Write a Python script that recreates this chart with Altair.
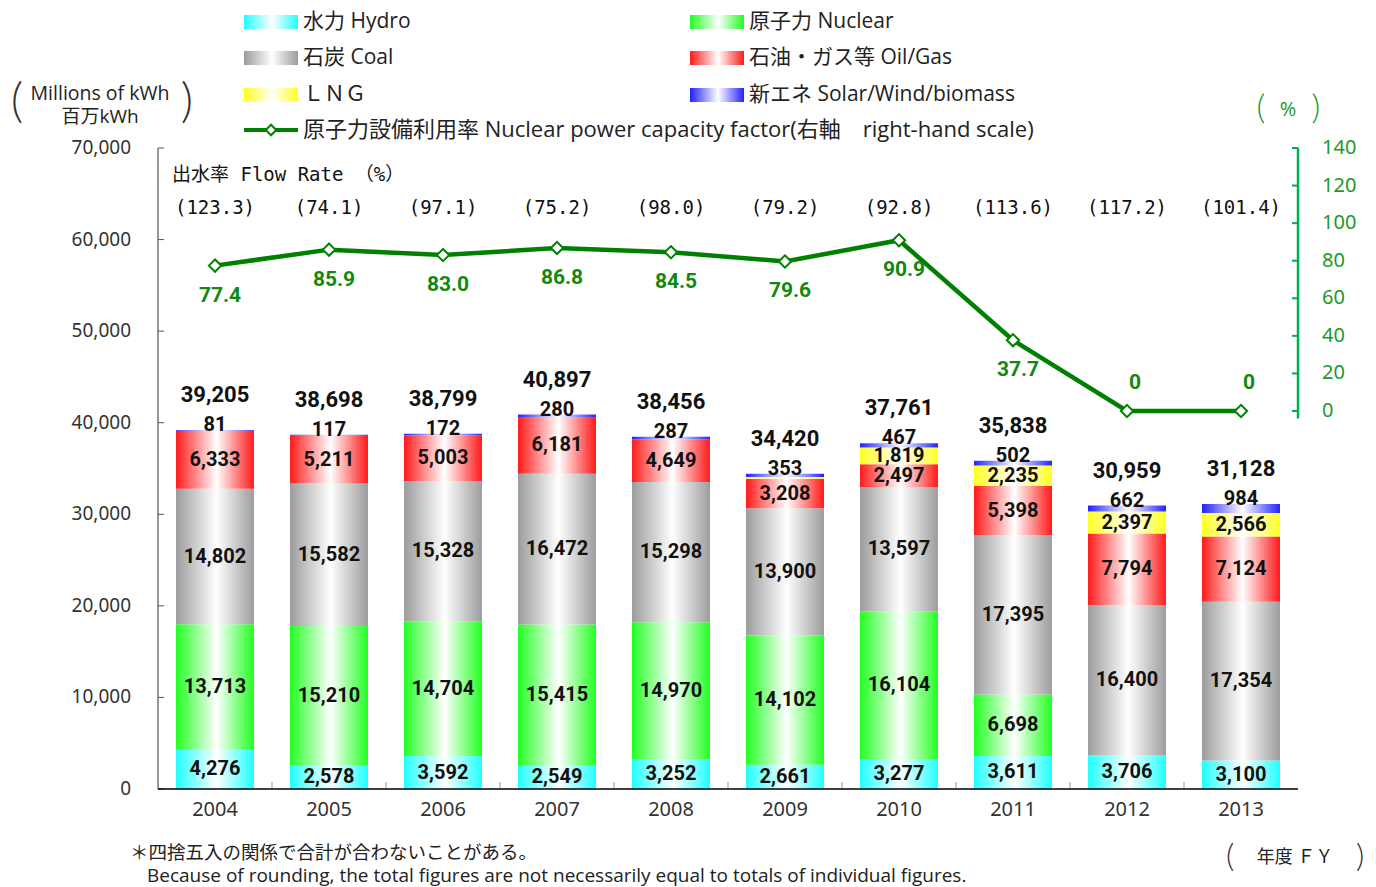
import altair as alt
import pandas as pd

# ---------------- data ----------------
years = ["2004", "2005", "2006", "2007", "2008", "2009", "2010", "2011", "2012", "2013"]
hydro = [4276, 2578, 3592, 2549, 3252, 2661, 3277, 3611, 3706, 3100]
nuclear = [13713, 15210, 14704, 15415, 14970, 14102, 16104, 6698, 0, 0]
coal = [14802, 15582, 15328, 16472, 15298, 13900, 13597, 17395, 16400, 17354]
oil_gas = [6333, 5211, 5003, 6181, 4649, 3208, 2497, 5398, 7794, 7124]
lng = [0, 0, 0, 0, 0, 196, 1819, 2235, 2397, 2566]
new_energy = [81, 117, 172, 280, 287, 353, 467, 502, 662, 984]
totals = [39205, 38698, 38799, 40897, 38456, 34420, 37761, 35838, 30959, 31128]
capacity_factor = [77.4, 85.9, 83.0, 86.8, 84.5, 79.6, 90.9, 37.7, 0, 0]
flow_rate = [123.3, 74.1, 97.1, 75.2, 98.0, 79.2, 92.8, 113.6, 117.2, 101.4]

series_keys = ["hydro", "nuclear", "coal", "oil", "lng", "new"]
series_values = [hydro, nuclear, coal, oil_gas, lng, new_energy]
series_labels = ["水力 Hydro", "原子力 Nuclear", "石炭 Coal", "石油・ガス等 Oil/Gas",
                 "ＬＮＧ", "新エネ Solar/Wind/biomass"]
series_colors = ["#22ffff", "#22ff22", "#9c9c9c", "#ff1a1a", "#ffff22", "#2222ff"]
line_label = "原子力設備利用率  Nuclear power capacity factor(右軸　right-hand scale)"
left_ticks = [0, 10000, 20000, 30000, 40000, 50000, 60000, 70000]
left_span = [0, 70000]
right_ticks = [0, 20, 40, 60, 80, 100, 120, 140]
right_span = [-4, 140]

rows = []
for k, (key, vals) in enumerate(zip(series_keys, series_values)):
    for y, v in zip(years, vals):
        rows.append({"year": y, "series": key, "order": k, "value": v})
long_df = pd.DataFrame(rows)
year_df = pd.DataFrame({"year": years, "total": totals, "cf": capacity_factor, "flow": flow_rate})

# ---------------- styling ----------------
W, H = 1140, 641
JP = "Open Sans, Noto Sans CJK JP"
NUM = "Roboto"
AX = "Noto Sans"
MONO = "DejaVu Sans Mono, Noto Sans CJK JP"
BR = "Lato"
GREEN = "#008000"
AXGREEN = "#00b050"
LBLGREEN = "#1a9a2a"
TXT = "#222222"


def grad(c):
    return alt.LinearGradient(
        gradient="linear",
        stops=[alt.GradientStop(offset=0, color=c),
               alt.GradientStop(offset=0.52, color="white"),
               alt.GradientStop(offset=1, color=c)],
        x1=0, x2=1, y1=0, y2=0)


xscale = alt.Scale(domain=years, paddingInner=0, paddingOuter=0)
x_enc = alt.X("year:N", scale=xscale, axis=None)
yscale = alt.Scale(domain=[0, 70000], nice=False, zero=False)
rscale = alt.Scale(domain=[-201.2, 140], nice=False, zero=False)

stack_kw = dict(stack="value", groupby=["year"], as_=["y0", "y1"],
                sort=[alt.SortField("order", order="ascending")])

layers = []
for key, col in zip(series_keys, series_colors):
    layers.append(
        alt.Chart(long_df).transform_stack(**stack_kw)
        .transform_filter(alt.datum.series == key)
        .mark_bar(color=grad(col), width=alt.RelativeBandSize(0.684))
        .encode(x=x_enc, y=alt.Y("y0:Q", scale=yscale, axis=None), y2="y1:Q")
    )

# segment labels
layers.append(
    alt.Chart(long_df).transform_stack(**stack_kw)
    .transform_filter("datum.value >= 1000")
    .transform_calculate(mid="(datum.y0 + datum.y1) / 2")
    .mark_text(font=NUM, fontWeight="bold", fontSize=20, color="#111")
    .encode(x=x_enc, y=alt.Y("mid:Q", scale=yscale, axis=None),
            text=alt.Text("value:Q", format=","))
)
layers.append(
    alt.Chart(long_df).transform_stack(**stack_kw)
    .transform_filter("datum.series == 'new' && datum.value > 0")
    .mark_text(font=NUM, fontWeight="bold", fontSize=20, color="#111", dy=-5)
    .encode(x=x_enc, y=alt.Y("y1:Q", scale=yscale, axis=None),
            text=alt.Text("value:Q", format=","))
)
# totals
layers.append(
    alt.Chart(year_df)
    .mark_text(font=NUM, fontWeight="bold", fontSize=22, color="#111", dy=-35)
    .encode(x=x_enc, y=alt.Y("total:Q", scale=yscale, axis=None),
            text=alt.Text("total:Q", format=","))
)

# ---- hand-drawn axes (left) ----
layers.append(
    alt.Chart(pd.DataFrame({"lo": [left_span[0]], "hi": [left_span[1]]}))
    .mark_rule(color="#333", strokeWidth=1)
    .encode(x=alt.value(0), y=alt.Y("lo:Q", scale=yscale, axis=None), y2="hi:Q")
)
layers.append(
    alt.Chart(pd.DataFrame({"t": left_ticks}))
    .mark_rule(color="#555", strokeWidth=1)
    .encode(y=alt.Y("t:Q", scale=yscale, axis=None), x=alt.value(0), x2=alt.value(6))
)
layers.append(
    alt.Chart(pd.DataFrame({"t": left_ticks}))
    .mark_text(font=AX, fontSize=19, color="#333", align="right", baseline="middle")
    .encode(y=alt.Y("t:Q", scale=yscale, axis=None), x=alt.value(-27),
            text=alt.Text("t:Q", format=","))
)
# ---- hand-drawn x axis ----
layers.append(
    alt.Chart(pd.DataFrame({"year": years[1:]}))
    .mark_rule(color="#999", strokeWidth=1)
    .encode(x=alt.X("year:N", scale=xscale, bandPosition=0, axis=None),
            y=alt.value(H - 7), y2=alt.value(H))
)
layers.append(
    alt.Chart(pd.DataFrame({"year": [years[0]]}))
    .mark_rule(color="#000", strokeWidth=1.3)
    .encode(x=alt.X("year:N", scale=xscale, bandPosition=0, axis=None),
            x2=alt.value(W), y=alt.value(H))
)
layers.append(
    alt.Chart(year_df)
    .mark_text(font=AX, fontSize=20, color="#333", baseline="middle")
    .encode(x=x_enc, y=alt.value(H + 21), text="year:N")
)
# flow rate
layers.append(
    alt.Chart(year_df)
    .transform_calculate(fl="'(' + format(datum.flow, '.1f') + ')'")
    .mark_text(font=MONO, fontSize=19, color="#111")
    .encode(x=x_enc, y=alt.value(60), text="fl:N")
)


def note(text, x, y, size=20, color=TXT, align="left", font=JP, weight="normal"):
    return alt.Chart(pd.DataFrame({"t": [text]})).mark_text(
        font=font, fontSize=size, color=color, align=align, baseline="middle",
        fontWeight=weight
    ).encode(x=alt.value(x), y=alt.value(y), text="t:N")


layers.append(note("出水率 Flow Rate （%）", 14, 27, size=19, font=MONO, color="#111"))

# legend
for i, (lab, col) in enumerate(zip(series_labels, series_colors)):
    cx = 86 if i % 2 == 0 else 532
    cy = [-126, -90, -53][i // 2]
    layers.append(
        alt.Chart(pd.DataFrame({"t": [lab]})).mark_rect(color=grad(col))
        .encode(x=alt.value(cx), x2=alt.value(cx + 54), y=alt.value(cy - 7), y2=alt.value(cy + 7))
    )
    layers.append(note(lab, cx + 59, cy, size=21))
layers.append(
    alt.Chart(pd.DataFrame({"t": [line_label]})).mark_rule(color=GREEN, strokeWidth=4)
    .encode(x=alt.value(86), x2=alt.value(140), y=alt.value(-18))
)
layers.append(
    alt.Chart(pd.DataFrame({"t": [line_label]}))
    .mark_point(shape="diamond", filled=True, fill="white", stroke=GREEN, strokeWidth=2,
                size=110, opacity=1)
    .encode(x=alt.value(113), y=alt.value(-18))
)
layers.append(note(line_label, 145, -18, size=22))

# axis titles / notes
layers.append(note("Millions of kWh", -58, -54, size=19.5, align="center"))
layers.append(note("百万kWh", -58, -31, size=19, align="center"))
layers.append(note("(", -141, -45, size=48, font=BR, weight=300, color="#333", align="center"))
layers.append(note(")", 29, -45, size=48, font=BR, weight=300, color="#333", align="center"))
layers.append(note("%", 1130, -38, size=20, color=LBLGREEN, align="center"))
layers.append(note("(", 1103, -39, size=34, font=BR, weight=300, color=LBLGREEN, align="center"))
layers.append(note(")", 1158, -39, size=34, font=BR, weight=300, color=LBLGREEN, align="center"))
layers.append(note("年度 ＦＹ", 1137, 710, size=18, align="center"))
layers.append(note("(", 1072, 709, size=32, font=BR, weight=300, color="#333", align="center"))
layers.append(note(")", 1202, 709, size=32, font=BR, weight=300, color="#333", align="center"))
layers.append(note("＊四捨五入の関係で合計が合わないことがある。", -28, 705, size=18.5))
layers.append(note("Because of rounding, the total figures are not necessarily equal to totals of individual figures.",
                   -11, 728, size=19))

bars_group = alt.layer(*layers)

# ---------------- capacity factor line (right scale) ----------------
line = alt.Chart(year_df).mark_line(color=GREEN, strokeWidth=4.5).encode(
    x=x_enc, y=alt.Y("cf:Q", scale=rscale, axis=None))
pts = alt.Chart(year_df).mark_point(
    shape="diamond", filled=True, fill="white", stroke=GREEN, strokeWidth=2, size=150, opacity=1
).encode(x=x_enc, y=alt.Y("cf:Q", scale=rscale, axis=None))
lab_pos = alt.Chart(year_df).transform_filter("datum.cf > 0").mark_text(
    font=NUM, fontWeight="bold", fontSize=21, color="#118811", dy=30, dx=5
).encode(x=x_enc, y=alt.Y("cf:Q", scale=rscale, axis=None), text=alt.Text("cf:Q", format=".1f"))
lab_zero = alt.Chart(year_df).transform_filter("datum.cf <= 0").mark_text(
    font=NUM, fontWeight="bold", fontSize=21, color="#118811", dy=-28, dx=8
).encode(x=x_enc, y=alt.Y("cf:Q", scale=rscale, axis=None), text=alt.Text("cf:Q", format="d"))
r_domain = alt.Chart(pd.DataFrame({"lo": [right_span[0]], "hi": [right_span[1]]})).mark_rule(
    color=AXGREEN, strokeWidth=2.5).encode(
    x=alt.value(W), y=alt.Y("lo:Q", scale=rscale, axis=None), y2="hi:Q")
r_ticks = alt.Chart(pd.DataFrame({"t": right_ticks})).mark_rule(color=AXGREEN, strokeWidth=2).encode(
    y=alt.Y("t:Q", scale=rscale, axis=None), x=alt.value(W - 6), x2=alt.value(W))
r_labels = alt.Chart(pd.DataFrame({"t": right_ticks})).mark_text(
    font=AX, fontSize=20, color=LBLGREEN, align="left", baseline="middle").encode(
    y=alt.Y("t:Q", scale=rscale, axis=None), x=alt.value(W + 24), text="t:Q")

line_group = alt.layer(r_domain, r_ticks, r_labels, line, pts, lab_pos, lab_zero)

chart = alt.layer(bars_group, line_group).resolve_scale(y="independent").properties(
    width=W, height=H,
    padding={"left": 150, "top": 140, "right": 68, "bottom": 100},
    autosize=alt.AutoSizeParams(type="none"),
).configure(background="white").configure_view(strokeWidth=0)

chart.save("out.html", embed_options={"renderer": "svg", "actions": False})
